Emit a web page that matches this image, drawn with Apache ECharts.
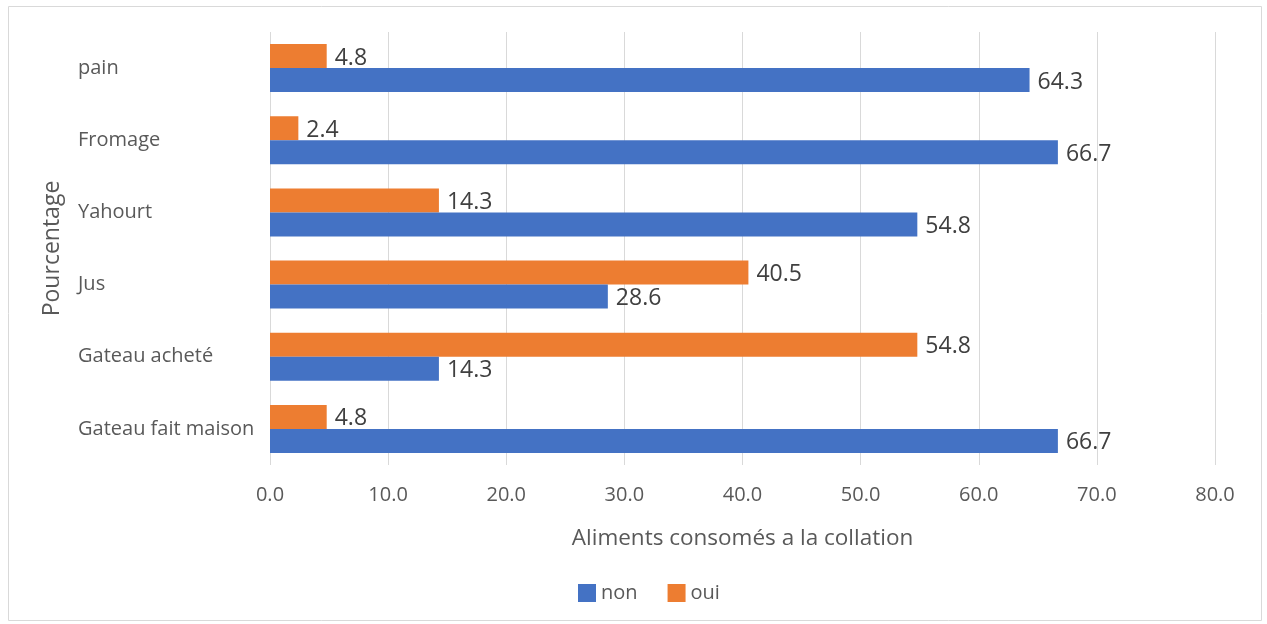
<!DOCTYPE html>
<html><head><meta charset="utf-8">
<script src="https://cdn.jsdelivr.net/npm/echarts@6/dist/echarts.min.js"></script>
<style>html,body{margin:0;padding:0;background:#fff}#c{width:1267px;height:624px}</style>
</head><body><div id="c"></div>
<script>
const categories = ['Gateau fait maison', 'Gateau acheté', 'Jus', 'Yahourt', 'Fromage', 'pain'];
const nonValues = [66.7, 14.3, 28.6, 54.8, 66.7, 64.3];
const ouiValues = [4.8, 54.8, 40.5, 14.3, 2.4, 4.8];
const seriesNames = ['non', 'oui'];
const xTicks = {min: 0, max: 80, interval: 10};

const chart = echarts.init(document.getElementById('c'), null, {renderer: 'canvas'});
const font = '"Open Sans", "Noto Sans", sans-serif';
const lbl = {show: true, position: 'right', distance: 8, offset: [0, 2], fontSize: 23, color: '#404040', fontFamily: font, formatter: p => p.value.toFixed(1)};
chart.setOption({
  animation: false,
  textStyle: {fontFamily: font},
  graphic: [{type: 'rect', shape: {x: 8.5, y: 6.5, width: 1253, height: 614}, style: {fill: 'none', stroke: '#d9d9d9', lineWidth: 1}, silent: true}],
  grid: {left: 270, right: 52, top: 32, bottom: 159, containLabel: false},
  legend: {
    data: seriesNames, bottom: 16, left: 573, itemWidth: 18, itemHeight: 18, itemGap: 30,
    icon: 'rect', textStyle: {fontSize: 20, color: '#595959', fontFamily: font}
  },
  xAxis: {
    type: 'value', min: xTicks.min, max: xTicks.max, interval: xTicks.interval,
    name: 'Aliments consomés a la collation', nameLocation: 'middle', nameGap: 62,
    nameTextStyle: {fontSize: 22.5, color: '#595959', fontFamily: font},
    axisLine: {show: false}, axisTick: {show: false},
    axisLabel: {fontSize: 20, color: '#595959', margin: 20, formatter: v => v.toFixed(1)},
    splitLine: {show: true, lineStyle: {color: '#d9d9d9', width: 1}}
  },
  yAxis: {
    type: 'category', data: categories,
    name: 'Pourcentage', nameLocation: 'middle', nameGap: 206, nameRotate: 90,
    nameTextStyle: {fontSize: 23, color: '#595959', fontFamily: font},
    axisLine: {show: false}, axisTick: {show: false},
    axisLabel: {fontSize: 20, color: '#595959', margin: 192, align: 'left'}
  },
  series: [
    {name: 'oui', type: 'bar', data: ouiValues, barWidth: 24, barGap: '0%',
     itemStyle: {color: '#ED7D31'}, label: lbl},
    {name: 'non', type: 'bar', data: nonValues, barWidth: 24, barGap: '0%',
     itemStyle: {color: '#4472C4'}, label: lbl}
  ]
});
</script></body></html>
